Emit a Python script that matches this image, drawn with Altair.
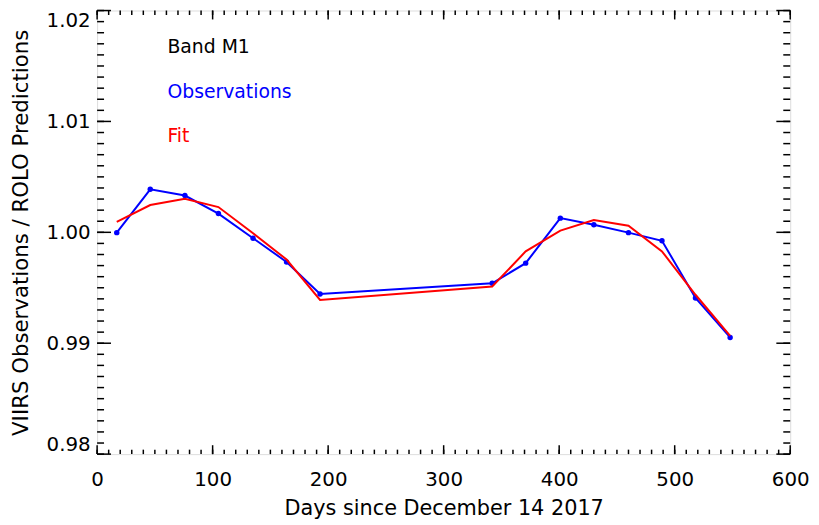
import altair as alt
import pandas as pd

# ---- data ----
days = [17, 46, 76, 105, 135, 164, 193, 342, 371, 401, 430, 460, 489, 518, 548]
observations = [0.99997, 1.00388, 1.00332, 1.00169, 0.99947, 0.99733, 0.99444,
                0.99541, 0.99722, 1.00128, 1.00068, 0.99997, 0.99924, 0.99408, 0.99052]
fit = [1.00095, 1.00246, 1.00302, 1.00228, 0.99991, 0.99755, 0.99390,
       0.99511, 0.99828, 1.00015, 1.00110, 1.00060, 0.99828, 0.99437, 0.99067]

x_major = [0, 100, 200, 300, 400, 500, 600]
x_minor = [v for v in range(0, 601, 10)]
y_major = [0.98, 0.99, 1.00, 1.01, 1.02]
y_minor = [round(0.98 + i * 0.001, 3) for i in range(41)]

annotations = ["Band M1", "Observations", "Fit"]

W, H = 700, 448
FONT = "DejaVu Sans"

df = pd.DataFrame({"day": days, "obs": observations, "fit": fit})

xscale = alt.Scale(domain=[0, 600], nice=False, zero=False)
yscale = alt.Scale(domain=[0.98, 1.02], nice=False, zero=False)

xaxis = alt.Axis(values=x_major, ticks=False, domain=False, grid=False,
                 labelFontSize=20, labelFont=FONT, labelColor="black", labelPadding=16,
                 title="Days since December 14 2017", titleFontSize=21, titleFont=FONT,
                 titleFontWeight="normal", titleColor="black",
                 titleX=W / 2, titleY=61, titleAlign="center", titleBaseline="alphabetic",
                 labelFlush=False)
yaxis = alt.Axis(values=y_major, format=".2f", ticks=False, domain=False, grid=False,
                 labelFontSize=20, labelFont=FONT, labelColor="black", labelPadding=7,
                 labelFlush=True,
                 title="VIIRS Observations / ROLO Predictions", titleFontSize=21.5,
                 titleFont=FONT, titleFontWeight="normal", titleColor="black",
                 titleX=-70, titleY=H / 2, titleAlign="center", titleBaseline="alphabetic",
                 titleAngle=270)

base = alt.Chart(df)

obs_line = base.mark_line(color="#0000ff", strokeWidth=2).encode(
    x=alt.X("day:Q", scale=xscale, axis=xaxis),
    y=alt.Y("obs:Q", scale=yscale, axis=yaxis),
)
obs_pts = base.mark_circle(color="#0000ff", size=30, opacity=1).encode(
    x=alt.X("day:Q", scale=xscale), y=alt.Y("obs:Q", scale=yscale))
fit_line = base.mark_line(color="#ff0000", strokeWidth=2).encode(
    x=alt.X("day:Q", scale=xscale), y=alt.Y("fit:Q", scale=yscale))

def xticks(vals, length):
    d = pd.DataFrame({"v": vals})
    bot = alt.Chart(d).mark_rule(color="black", strokeWidth=1.5).encode(
        x=alt.X("v:Q", scale=xscale), y=alt.value(H), y2=alt.value(H - length))
    top = alt.Chart(d).mark_rule(color="black", strokeWidth=1.5).encode(
        x=alt.X("v:Q", scale=xscale), y=alt.value(0), y2=alt.value(length))
    return [bot, top]

def yticks(vals, length):
    d = pd.DataFrame({"v": vals})
    left = alt.Chart(d).mark_rule(color="black", strokeWidth=1.5).encode(
        y=alt.Y("v:Q", scale=yscale), x=alt.value(0), x2=alt.value(length))
    right = alt.Chart(d).mark_rule(color="black", strokeWidth=1.5).encode(
        y=alt.Y("v:Q", scale=yscale), x=alt.value(W), x2=alt.value(W - length))
    return [left, right]

ticks = xticks(x_major, 9) + xticks(x_minor, 4.5) + yticks(y_major, 14) + yticks(y_minor, 7)

ann_colors = ["black", "#0000ff", "#ff0000"]
ann_y = [43, 88, 133]
texts = [
    alt.Chart(pd.DataFrame({"t": [annotations[i]]})).mark_text(
        align="left", baseline="alphabetic", font=FONT, fontSize=19, color=ann_colors[i]
    ).encode(text="t:N", x=alt.value(71), y=alt.value(ann_y[i]))
    for i in range(3)
]

chart = alt.layer(obs_line, obs_pts, fit_line, *ticks, *texts).properties(
    width=W, height=H,
    autosize=alt.AutoSizeParams(type="none"),
    padding={"left": 90, "top": 0, "right": 21, "bottom": 66},
).configure_view(stroke="black", strokeWidth=1.5).configure(background="white")

chart.save("out.html", embed_options={"renderer": "svg", "actions": False})
